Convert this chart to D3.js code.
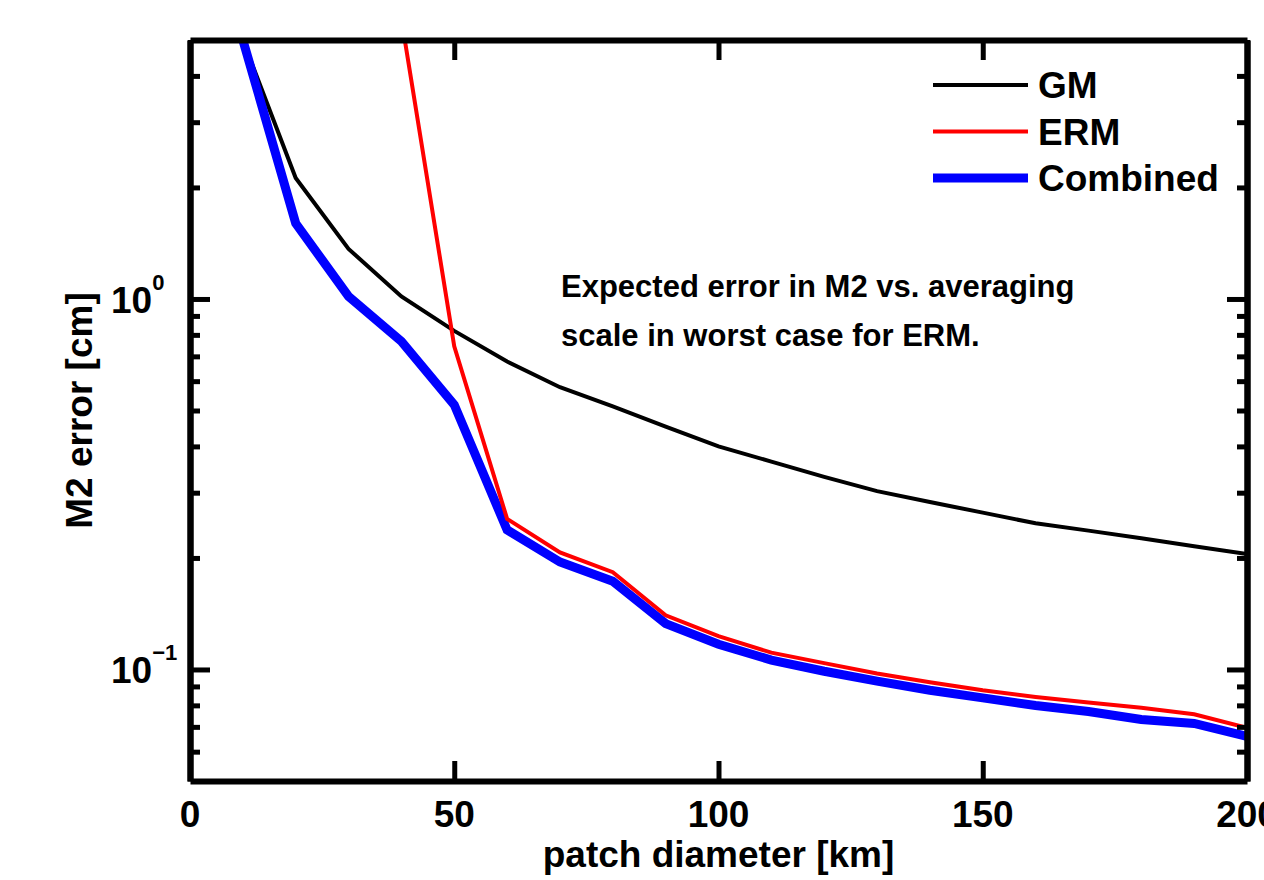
<!DOCTYPE html>
<html>
<head>
<meta charset="utf-8">
<script src="https://cdn.jsdelivr.net/npm/d3@7"></script>
<style>
    body { margin: 0; background: #fff; }
    svg text { font-family: "Liberation Sans", Arial, Helvetica, sans-serif; font-weight: bold; fill: #000; }
</style>
</head>
<body>
<svg id="chart" width="1264" height="880"></svg>
<script>
// patch diameter [km]
var diameters = [10, 20, 30, 40, 50, 60, 70, 80, 90, 100, 110, 120, 130, 140, 150, 160, 170, 180, 190, 200];
// M2 error [cm]
var gmError = [5.0, 2.12, 1.365, 1.016, 0.82, 0.678, 0.578, 0.513, 0.452, 0.40, 0.364, 0.331, 0.303, 0.283, 0.265, 0.248, 0.237, 0.226, 0.215, 0.205];
var ermError = [null, null, null, 5.7, 0.745, 0.255, 0.207, 0.183, 0.140, 0.123, 0.111, 0.104, 0.0975, 0.0924, 0.0879, 0.0843, 0.0814, 0.0788, 0.0757, 0.0696];
var combinedError = [5.0, 1.60, 1.016, 0.768, 0.518, 0.238, 0.195, 0.173, 0.133, 0.117, 0.106, 0.0989, 0.093, 0.0879, 0.0838, 0.0799, 0.077, 0.0733, 0.0715, 0.066];

var xTickValues = [0, 50, 100, 150, 200];
var yMajorTicks = [0.1, 1];
var yTickExponents = ["\u22121", "0"];
var seriesNames = ["GM", "ERM", "Combined"];
var noteLines = ["Expected error in M2 vs. averaging", "scale in worst case for ERM."];

// set the dimensions and margins of the graph
var margin = { top: 40, right: 17, bottom: 99, left: 190 },
    width = 1264 - margin.left - margin.right,
    height = 880 - margin.top - margin.bottom;

var x = d3.scaleLinear().domain([0, 200]).range([0, width]);
var y = d3.scaleLog().domain([0.05, 5]).range([height, 0]);

var svg = d3.select("#chart")
    .append("g")
    .attr("transform", "translate(" + margin.left + "," + margin.top + ")");

svg.append("defs").append("clipPath").attr("id", "plotClip")
    .append("rect").attr("width", width).attr("height", height);

// lines
var series = [
    { name: "GM", values: gmError, color: "#000", width: 4 },
    { name: "Combined", values: combinedError, color: "#0000ff", width: 9 },
    { name: "ERM", values: ermError, color: "#ff0000", width: 4 }
];

var line = d3.line()
    .defined(function (d) { return d[1] != null; })
    .x(function (d) { return x(d[0]); })
    .y(function (d) { return y(d[1]); });

var plot = svg.append("g").attr("clip-path", "url(#plotClip)");
series.forEach(function (s) {
    plot.append("path")
        .datum(diameters.map(function (d, i) { return [d, s.values[i]]; }))
        .attr("d", line)
        .attr("fill", "none")
        .attr("stroke", s.color)
        .attr("stroke-width", s.width)
        .attr("stroke-linejoin", "miter");
});

// axes (ticks point inward on all four sides)
var yMinor = y.ticks().filter(function (v) {
    return yMajorTicks.indexOf(v) < 0 && v > 0.05 && v < 5;
});

function styleAxis(g) {
    g.select(".domain").attr("stroke-width", 6).attr("stroke", "#000");
    g.selectAll(".tick line").attr("stroke-width", 5).attr("stroke", "#000");
    g.selectAll(".tick text").remove();
}

svg.append("g").attr("transform", "translate(0," + height + ")")
    .call(d3.axisBottom(x).tickValues(xTickValues).tickSize(-20).tickSizeOuter(0))
    .call(styleAxis);
svg.append("g")
    .call(d3.axisTop(x).tickValues(xTickValues).tickSize(-20).tickSizeOuter(0))
    .call(styleAxis);
svg.append("g")
    .call(d3.axisLeft(y).tickValues(yMajorTicks).tickSize(-20).tickSizeOuter(0))
    .call(styleAxis);
svg.append("g")
    .call(d3.axisLeft(y).tickValues(yMinor).tickSize(-10).tickSizeOuter(0))
    .call(styleAxis);
svg.append("g").attr("transform", "translate(" + width + ",0)")
    .call(d3.axisRight(y).tickValues(yMajorTicks).tickSize(-20).tickSizeOuter(0))
    .call(styleAxis);
svg.append("g").attr("transform", "translate(" + width + ",0)")
    .call(d3.axisRight(y).tickValues(yMinor).tickSize(-10).tickSizeOuter(0))
    .call(styleAxis);

// tick labels
svg.selectAll(".xlabel")
    .data(xTickValues)
    .enter().append("text")
    .attr("x", function (d) { return x(d); })
    .attr("y", height + 46)
    .attr("text-anchor", "middle")
    .style("font-size", "37px")
    .text(function (d) { return d; });

var yLab = svg.selectAll(".ylabel")
    .data(yMajorTicks)
    .enter().append("text")
    .attr("x", -79)
    .attr("y", function (d) { return y(d) + 14; })
    .style("font-size", "37px");
yLab.append("tspan").text("10");
yLab.append("tspan")
    .attr("dy", -23)
    .style("font-size", "22px")
    .text(function (d, i) { return yTickExponents[i]; });

// axis titles
svg.append("text")
    .attr("x", width / 2)
    .attr("y", height + 86)
    .attr("text-anchor", "middle")
    .style("font-size", "37px")
    .text("patch diameter [km]");

svg.append("text")
    .attr("transform", "translate(-98," + (height / 2) + ") rotate(-90)")
    .attr("text-anchor", "middle")
    .style("font-size", "37px")
    .text("M2 error [cm]");

// annotation
svg.selectAll(".note")
    .data(noteLines)
    .enter().append("text")
    .attr("x", 371)
    .attr("y", function (d, i) { return 257 + i * 49; })
    .style("font-size", "31px")
    .text(function (d) { return d; });

// legend
var legendOrder = [series[0], series[2], series[1]];
var legend = svg.selectAll(".legend")
    .data(legendOrder)
    .enter().append("g")
    .attr("transform", function (d, i) { return "translate(743," + (45 + i * 46.5) + ")"; });
legend.append("line")
    .attr("x1", 0).attr("x2", 95)
    .attr("stroke", function (d) { return d.color; })
    .attr("stroke-width", function (d) { return d.width; });
legend.append("text")
    .attr("x", 105)
    .attr("y", 13)
    .style("font-size", "37px")
    .text(function (d, i) { return seriesNames[i]; });
</script>
</body>
</html>
